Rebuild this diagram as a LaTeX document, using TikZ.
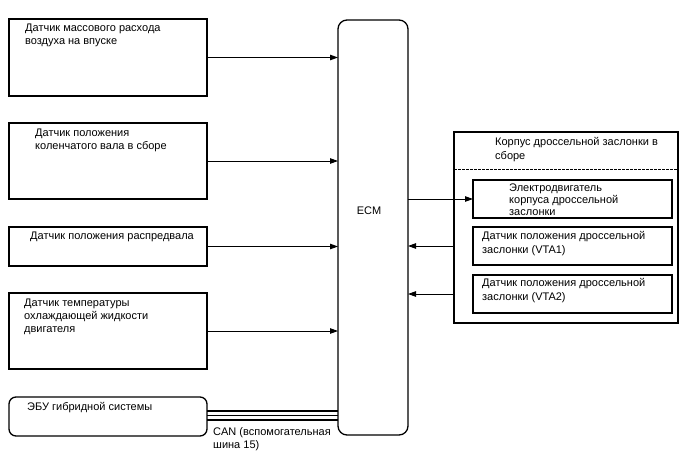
\documentclass[tikz,border=0pt]{standalone}
\usepackage{fontspec}
\setmainfont{Liberation Sans}
\usetikzlibrary{arrows.meta}
\begin{document}
\begin{tikzpicture}[x=1pt,y=-1pt,
  box/.style={draw, line width=1.3pt, inner sep=0pt, outer sep=0pt, anchor=north west},
  rbox/.style={box, rounded corners=7pt},
  lbl/.style={anchor=north west, inner sep=0pt, align=left, font=\fontsize{11}{13.2}\selectfont},
  sig/.style={line width=0.9pt, -{Triangle[length=8pt,width=5.5pt]}},
  bus/.style={line width=1.1pt}]
\useasboundingbox (0,0) rectangle (688,463);
% left boxes
\node[box, minimum width=198pt, minimum height=77pt] (s1) at (9,19) {};
\node[box, minimum width=198pt, minimum height=76pt] (s2) at (9,123) {};
\node[box, minimum width=198pt, minimum height=39pt] (s3) at (9,227) {};
\node[box, minimum width=198pt, minimum height=76pt] (s4) at (9,293) {};
\node[rbox, minimum width=198pt, minimum height=39pt] (s5) at (9,397) {};
% ECM
\node[rbox, rounded corners=9pt, minimum width=70pt, minimum height=415pt] (ecm) at (338,20) {};
\node[inner sep=0pt, font=\fontsize{11}{13}\selectfont] (ecmt) at (369,211) {ECM};
% throttle body
\node[box, minimum width=224pt, minimum height=191pt] (tb) at (454,132) {};
\coordinate (dl) at (454,169.5);
\coordinate (dr) at (678,169.5);
\draw[line width=1.3pt, dash pattern=on 2.5pt off 1.5pt] (dl) -- (dr);
\node[box, minimum width=199pt, minimum height=38pt] (ta) at (473,180) {};
\node[box, minimum width=199pt, minimum height=38pt] (tbb) at (473,227) {};
\node[box, minimum width=199pt, minimum height=38pt] (tc) at (473,275) {};
% labels
\node[lbl] (t1) at (25,23.5) {Датчик массового расхода\\воздуха на впуске};
\node[lbl] (t2) at (35,128.5) {Датчик положения\\коленчатого вала в сборе};
\node[lbl] (t3) at (30,231.5) {Датчик положения распредвала};
\node[lbl] (t4) at (24,298.5) {Датчик температуры\\охлаждающей жидкости\\двигателя};
\node[lbl] (t5) at (27,402.5) {ЭБУ гибридной системы};
\node[lbl] (tt) at (495,137.5) {Корпус дроссельной заслонки в\\сборе};
\node[lbl, font=\fontsize{11}{12}\selectfont] (tat) at (509,183.5) {Электродвигатель\\корпуса дроссельной\\заслонки};
\node[lbl] (tbt) at (482,231.5) {Датчик положения дроссельной\\заслонки (VTA1)};
\node[lbl] (tct) at (482,278.5) {Датчик положения дроссельной\\заслонки (VTA2)};
\node[lbl] (can) at (213,427.5) {CAN (вспомогательная\\шина 15)};
% connectors
\draw[sig] (s1.east) -- (s1.east -| ecm.west);
\draw[sig] (s2.east) -- (s2.east -| ecm.west);
\draw[sig] (s3.east) -- (s3.east -| ecm.west);
\draw[sig] (s4.east) -- (s4.east -| ecm.west);
\draw[sig] (ta.west -| ecm.east) -- (ta.west);
\draw[sig] (tbb.west -| tb.west) -- (tbb.west -| ecm.east);
\draw[sig] (tc.west -| tb.west) -- (tc.west -| ecm.east);
\draw[bus] ([yshift=5.5pt]s5.east) -- ([yshift=5.5pt]s5.east -| ecm.west);
\draw[bus] ([yshift=1pt]s5.east) -- ([yshift=1pt]s5.east -| ecm.west);
\draw[bus] ([yshift=-3.5pt]s5.east) -- ([yshift=-3.5pt]s5.east -| ecm.west);
\end{tikzpicture}
\end{document}
